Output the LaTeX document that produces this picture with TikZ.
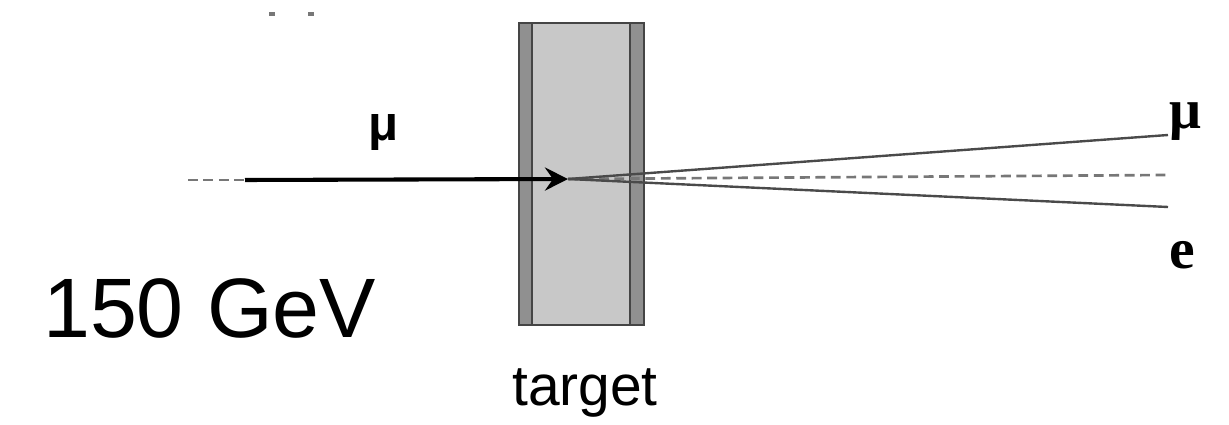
\documentclass[tikz,border=0pt]{standalone}
\usepackage{fontspec}
\setmainfont{Liberation Serif}
\setsansfont{Liberation Sans}
\usetikzlibrary{arrows.meta}
\definecolor{stripgray}{HTML}{909090}
\definecolor{coregray}{HTML}{C8C8C8}
\definecolor{edgegray}{HTML}{454545}
\definecolor{trackgray}{HTML}{4A4A4A}
\definecolor{beamgray}{HTML}{777777}
\tikzset{
  edge/.style={draw=edgegray, line width=3pt},
  beam/.style={line width=5.8pt, black},
  track/.style={line width=3.4pt, trackgray},
  axisline/.style={line width=3.8pt, beamgray, dash pattern=on 14pt off 8pt},
  sanslabel/.style={font=\sffamily, inner sep=0pt},
  seriflabel/.style={font=\rmfamily\bfseries, inner sep=0pt}
}
\begin{document}
\begin{tikzpicture}[x=0.05cm, y=-0.05cm]
\useasboundingbox (0,0) rectangle (1229,425);

% target: light core between two dark plates
\fill[coregray] (532,23) rectangle (630,325);
\fill[stripgray] (519,23) rectangle (532,325);
\fill[stripgray] (630,23) rectangle (644,325);
\draw[edge] (519,23) rectangle (644,325);
\draw[edge] (532,23) -- (532,325);
\draw[edge] (630,23) -- (630,325);
\node[coordinate] (target) at (581,174) {};

% small marks at the top
\fill[beamgray] (269,12) rectangle (275,16);
\fill[beamgray] (308,12) rectangle (314,16);

% beam axis and vertex
\coordinate (axisL) at (188,180);
\coordinate (beamS) at (245,180);
\coordinate (vtx) at (568,179);
\coordinate (axisR) at (1166,175);
\coordinate (muEnd) at (1168,135);
\coordinate (eEnd) at (1168,207);

\draw[axisline] (axisL) -- (beamS);
\draw[axisline] (vtx) -- (axisR);
\draw[track] (vtx) -- (muEnd);
\draw[track] (vtx) -- (eEnd);
\draw[beam, -{Stealth[length=1.15cm, width=1.15cm, inset=0.4cm]}] (beamS) -- (vtx);

% labels
\node[sanslabel, font=\sffamily\bfseries\fontsize{70}{70}\selectfont, anchor=base] (muIn) at (384,141) {μ};
\node[seriflabel, font=\rmfamily\bfseries\fontsize{80}{80}\selectfont, anchor=base] (muOut) at (1185,129) {μ};
\node[seriflabel, font=\rmfamily\bfseries\fontsize{82}{82}\selectfont, anchor=base] (eOut) at (1182,268) {e};
\node[sanslabel, font=\sffamily\fontsize{120}{120}\selectfont, anchor=base west] (energy) at (43,337) {150 GeV};
\node[sanslabel, font=\sffamily\fontsize{81}{81}\selectfont, anchor=base] (tlabel) at (585,405) {target};
\end{tikzpicture}
\end{document}
